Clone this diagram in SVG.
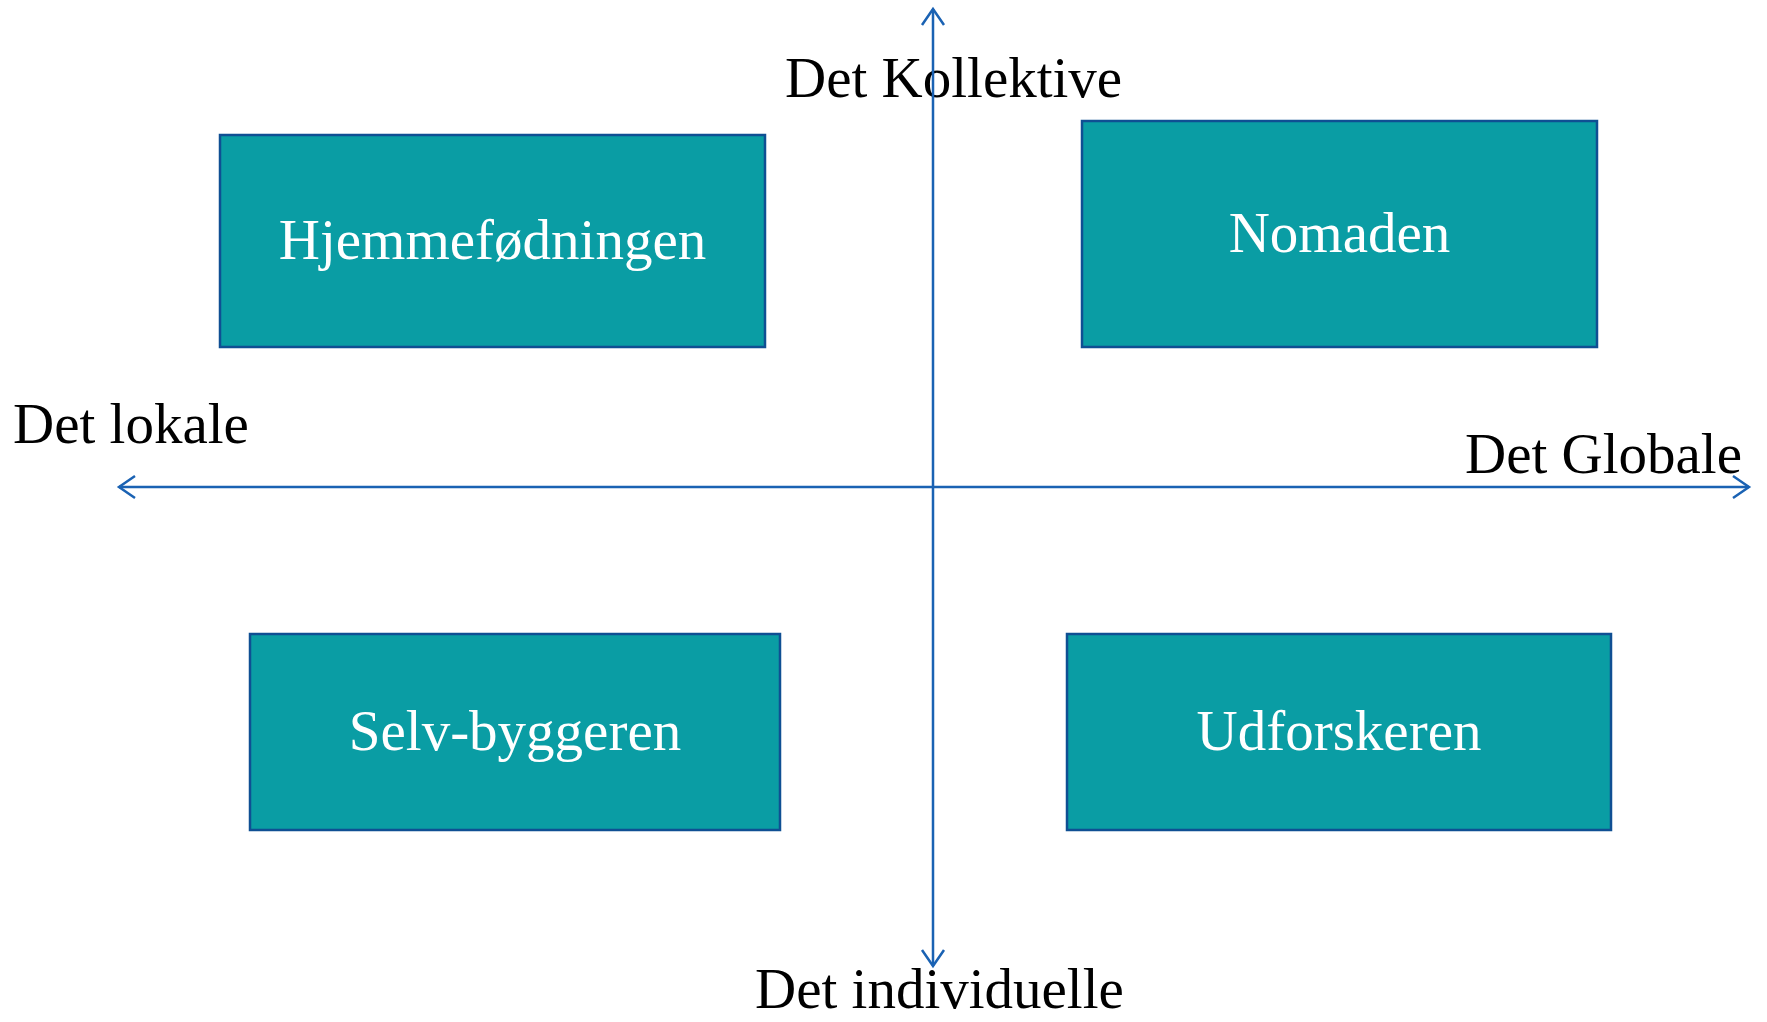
<svg xmlns="http://www.w3.org/2000/svg" width="1767" height="1022" viewBox="0 0 1767 1022">
  <style>
    .box { fill: #0a9da4; stroke: #0f4f93; stroke-width: 2.5; }
    .boxlabel { font-family: "Liberation Serif", "DejaVu Serif", serif; font-size: 57px; fill: #ffffff; text-anchor: middle; }
    .axislabel { font-family: "Liberation Serif", "DejaVu Serif", serif; font-size: 57px; fill: #000000; }
    .axis { stroke: #1a62b3; stroke-width: 2.5; fill: none; }
  </style>
  <defs>
    <marker id="arrow" viewBox="-20 -14 24 28" markerWidth="24" markerHeight="28" refX="0" refY="0" orient="auto-start-reverse" markerUnits="userSpaceOnUse">
      <path d="M-16,-11 L0,0 L-16,11" fill="none" stroke="#1a62b3" stroke-width="2.5"/>
    </marker>
  </defs>
  <rect width="1767" height="1022" fill="#ffffff"/>

  <g id="label-kollektive"><text class="axislabel" x="785" y="97">Det Kollektive</text></g>
  <g id="label-lokale"><text class="axislabel" x="13" y="443">Det lokale</text></g>
  <g id="label-globale"><text class="axislabel" x="1465" y="473">Det Globale</text></g>
  <g id="label-individuelle"><text class="axislabel" x="755" y="1008">Det individuelle</text></g>

  <g id="node-hjemmefodningen">
    <rect class="box" x="220" y="135" width="545" height="212"/>
    <text class="boxlabel" x="492.5" y="259">Hjemmefødningen</text>
  </g>
  <g id="node-nomaden">
    <rect class="box" x="1082" y="121" width="515" height="226"/>
    <text class="boxlabel" x="1339.5" y="252">Nomaden</text>
  </g>
  <g id="node-selvbyggeren">
    <rect class="box" x="250" y="634" width="530" height="196"/>
    <text class="boxlabel" x="515" y="750">Selv-byggeren</text>
  </g>
  <g id="node-udforskeren">
    <rect class="box" x="1067" y="634" width="544" height="196"/>
    <text class="boxlabel" x="1339" y="750">Udforskeren</text>
  </g>

  <g id="connectors">
    <line class="axis" x1="933" y1="966" x2="933" y2="9" marker-start="url(#arrow)" marker-end="url(#arrow)"/>
    <line class="axis" x1="119" y1="487" x2="1749" y2="487" marker-start="url(#arrow)" marker-end="url(#arrow)"/>
  </g>
</svg>
